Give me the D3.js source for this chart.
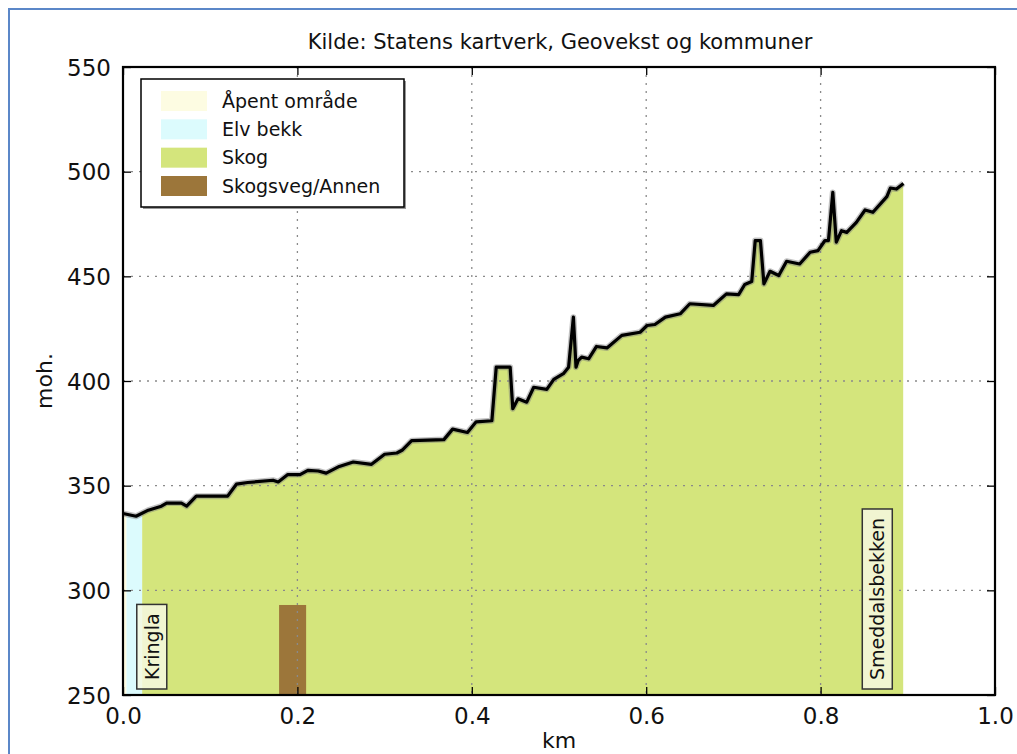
<!DOCTYPE html>
<html>
<head>
<meta charset="utf-8">
<script src="https://cdn.jsdelivr.net/npm/d3@7"></script>
<style>
  body { margin: 0; background: #fff; }
  svg { display: block; font-family: "DejaVu Sans", sans-serif; }
  .tick text { fill: #111; }
</style>
</head>
<body>
<svg id="chart" width="1017" height="754"></svg>
<script>
// elevation profile (km, metres above sea level)
const kmValues = [0.000, 0.015, 0.029, 0.044, 0.050, 0.067, 0.073, 0.084, 0.120, 0.130,
  0.143, 0.172, 0.178, 0.189, 0.203, 0.212, 0.224, 0.233, 0.248, 0.264,
  0.285, 0.300, 0.314, 0.320, 0.331, 0.368, 0.378, 0.395, 0.405, 0.423,
  0.428, 0.444, 0.447, 0.453, 0.463, 0.471, 0.486, 0.494, 0.505, 0.511,
  0.5165, 0.5195, 0.522, 0.526, 0.534, 0.543, 0.555, 0.572, 0.593, 0.601,
  0.610, 0.622, 0.639, 0.650, 0.677, 0.692, 0.706, 0.713, 0.721, 0.725,
  0.731, 0.735, 0.742, 0.752, 0.761, 0.776, 0.788, 0.797, 0.805, 0.809,
  0.814, 0.818, 0.824, 0.830, 0.841, 0.851, 0.860, 0.876, 0.880, 0.887, 0.895]
const elevValues = [336.7, 335.4, 338.3, 340.2, 341.7, 341.7, 340.2, 345.0, 345.0, 350.7,
  351.5, 352.6, 351.8, 355.3, 355.3, 357.3, 357.0, 356.0, 359.2, 361.3,
  360.2, 365.0, 365.6, 366.9, 371.5, 372.0, 377.0, 375.4, 380.5, 381.0,
  406.6, 406.6, 386.8, 391.5, 389.9, 397.0, 396.0, 400.8, 403.5, 406.6,
  430.5, 406.6, 409.8, 411.4, 410.6, 416.5, 415.8, 421.8, 423.3, 426.5,
  427.0, 430.5, 432.1, 436.9, 436.1, 441.6, 441.3, 446.1, 447.5, 467.1,
  467.1, 446.4, 452.4, 450.4, 457.2, 455.9, 461.5, 462.3, 467.1, 467.1,
  490.1, 466.3, 471.8, 471.0, 475.8, 481.7, 480.6, 488.1, 492.2, 491.7, 494.4]

// surface types (legend order) and their stretches along the profile
const surfaceNames = ['Åpent område', 'Elv bekk', 'Skog', 'Skogsveg/Annen']
const surfaceColors = ['#fdfce2', '#dcfbfd', '#d4e57c', '#9c763a']
const stretchKind = [0, 1, 2]
const stretchFrom = [0.000, 0.004, 0.022]
const stretchTo = [0.004, 0.022, 0.895]
const roadFrom = [0.179]
const roadTo = [0.210]
const roadTop = [293]

// place names
const placeNames = ['Kringla', 'Smeddalsbekken']
const placeKm = [0.033, 0.865]

const xTicks = [0.0, 0.2, 0.4, 0.6, 0.8, 1.0]
const yTicks = [250, 300, 350, 400, 450, 500, 550]
const title = 'Kilde: Statens kartverk, Geovekst og kommuner'

const margin = {left: 123, right: 995, top: 67, bottom: 695}
const svg = d3.select('#chart')

// page border
svg.append('path')
  .attr('d', 'M9,754 L9,9 L1017,9')
  .attr('fill', 'none')
  .attr('stroke', '#5b87c8')
  .attr('stroke-width', 2)

const x = d3.scaleLinear().domain([0, 1]).range([margin.left, margin.right])
const y = d3.scaleLinear().domain([250, 550]).range([margin.bottom, margin.top])

const profile = kmValues.map((k, i) => ({km: k, elev: elevValues[i]}))

const area = d3.area()
  .x(d => x(d.km))
  .y0(y(250))
  .y1(d => y(d.elev))

svg.append('clipPath').attr('id', 'profileClip')
  .append('path').attr('d', area(profile))

// coloured surface stretches under the profile
svg.append('g').attr('clip-path', 'url(#profileClip)')
  .selectAll('rect')
  .data(stretchKind)
  .enter()
  .append('rect')
  .attr('x', (d, i) => x(stretchFrom[i]))
  .attr('width', (d, i) => x(stretchTo[i]) - x(stretchFrom[i]))
  .attr('y', margin.top)
  .attr('height', margin.bottom - margin.top)
  .attr('fill', d => surfaceColors[d])

// forest road bar
svg.append('g').selectAll('rect')
  .data(roadFrom)
  .enter()
  .append('rect')
  .attr('x', (d, i) => x(d))
  .attr('width', (d, i) => x(roadTo[i]) - x(d))
  .attr('y', (d, i) => y(roadTop[i]))
  .attr('height', (d, i) => y(250) - y(roadTop[i]))
  .attr('fill', surfaceColors[3])

// grid
const grid = svg.append('g')
  .attr('stroke', '#8a8a8a')
  .attr('stroke-width', 1.3)
  .attr('stroke-dasharray', '2,6')
grid.selectAll('.gx')
  .data(xTicks.slice(1, -1))
  .enter()
  .append('line')
  .attr('x1', d => x(d)).attr('x2', d => x(d))
  .attr('y1', margin.top).attr('y2', margin.bottom)
grid.selectAll('.gy')
  .data(yTicks.slice(1, -1))
  .enter()
  .append('line')
  .attr('x1', margin.left).attr('x2', margin.right)
  .attr('y1', d => y(d)).attr('y2', d => y(d))

// profile line
const line = d3.line().x(d => x(d.km)).y(d => y(d.elev))
svg.append('path')
  .attr('d', line(profile))
  .attr('fill', 'none')
  .attr('stroke', '#777')
  .attr('stroke-opacity', 0.45)
  .attr('stroke-width', 6)
  .attr('stroke-linejoin', 'round')
svg.append('path')
  .attr('d', line(profile))
  .attr('fill', 'none')
  .attr('stroke', '#000')
  .attr('stroke-width', 3.2)
  .attr('stroke-linejoin', 'round')

// place name labels
const labels = svg.append('g').selectAll('g')
  .data(placeNames)
  .enter()
  .append('g')
  .attr('transform', (d, i) => 'translate(' + x(placeKm[i]) + ',' + (y(250) - 6) + ') rotate(-90)')
labels.append('text')
  .attr('x', 9)
  .attr('y', 7)
  .attr('font-size', 19)
  .attr('fill', '#111')
  .text(d => d)
labels.insert('rect', 'text')
  .each(function() {
    const t = this.parentNode.querySelector('text').getBBox()
    d3.select(this)
      .attr('x', t.x - 9).attr('y', -15)
      .attr('width', t.width + 18).attr('height', 30)
  })
  .attr('fill', '#f6f8e0')
  .attr('fill-opacity', 0.85)
  .attr('stroke', '#333')
  .attr('stroke-width', 1.5)

// axes
const axisFont = 23
const axLeft = svg.append('g')
  .attr('transform', 'translate(' + margin.left + ',0)')
  .call(d3.axisLeft(y).tickValues(yTicks).tickFormat(d3.format('d')).tickSizeInner(-8).tickSizeOuter(0).tickPadding(12))
const axBottom = svg.append('g')
  .attr('transform', 'translate(0,' + margin.bottom + ')')
  .call(d3.axisBottom(x).tickValues(xTicks).tickFormat(d3.format('.1f')).tickSizeInner(-8).tickSizeOuter(0).tickPadding(12))
const axRight = svg.append('g')
  .attr('transform', 'translate(' + margin.right + ',0)')
  .call(d3.axisRight(y).tickValues(yTicks).tickFormat('').tickSizeInner(-8).tickSizeOuter(0))
const axTop = svg.append('g')
  .attr('transform', 'translate(0,' + margin.top + ')')
  .call(d3.axisTop(x).tickValues(xTicks).tickFormat('').tickSizeInner(-8).tickSizeOuter(0))
;[axLeft, axBottom, axRight, axTop].forEach(a => {
  a.select('.domain').remove()
  a.selectAll('line').attr('stroke', '#000').attr('stroke-width', 1.3)
  a.selectAll('text').attr('font-size', axisFont).attr('font-family', '"DejaVu Sans", sans-serif')
})
axLeft.selectAll('text').attr('dy', '0.36em')
axBottom.selectAll('text').attr('dy', '0.72em')

// frame
svg.append('rect')
  .attr('x', margin.left).attr('y', margin.top)
  .attr('width', margin.right - margin.left)
  .attr('height', margin.bottom - margin.top)
  .attr('fill', 'none')
  .attr('stroke', '#000')
  .attr('stroke-width', 2.2)

// titles
svg.append('text')
  .attr('x', 560)
  .attr('y', 49)
  .attr('text-anchor', 'middle')
  .attr('font-size', 21)
  .attr('fill', '#111')
  .text(title)
svg.append('text')
  .attr('x', (margin.left + margin.right) / 2)
  .attr('y', 748)
  .attr('text-anchor', 'middle')
  .attr('font-size', 22)
  .attr('fill', '#111')
  .text('km')
svg.append('text')
  .attr('transform', 'translate(52,' + ((margin.top + margin.bottom) / 2) + ') rotate(-90)')
  .attr('text-anchor', 'middle')
  .attr('font-size', 22)
  .attr('fill', '#111')
  .text('moh.')

// legend
const legend = svg.append('g').attr('transform', 'translate(141,79)')
legend.append('rect')
  .attr('x', 2).attr('y', 2)
  .attr('width', 263).attr('height', 128)
  .attr('fill', '#999')
legend.append('rect')
  .attr('width', 263).attr('height', 128)
  .attr('fill', '#fff')
  .attr('stroke', '#000')
  .attr('stroke-width', 1.5)
const rowY = d3.scalePoint().domain(surfaceNames).range([22, 107])
const rows = legend.selectAll('.row')
  .data(surfaceNames)
  .enter()
  .append('g')
  .attr('transform', d => 'translate(0,' + rowY(d) + ')')
rows.append('rect')
  .attr('x', 20).attr('y', -10)
  .attr('width', 46).attr('height', 20)
  .attr('fill', (d, i) => surfaceColors[i])
rows.append('text')
  .attr('x', 81)
  .attr('dy', '0.35em')
  .attr('font-size', 19)
  .attr('fill', '#111')
  .text(d => d)
</script>
</body>
</html>
